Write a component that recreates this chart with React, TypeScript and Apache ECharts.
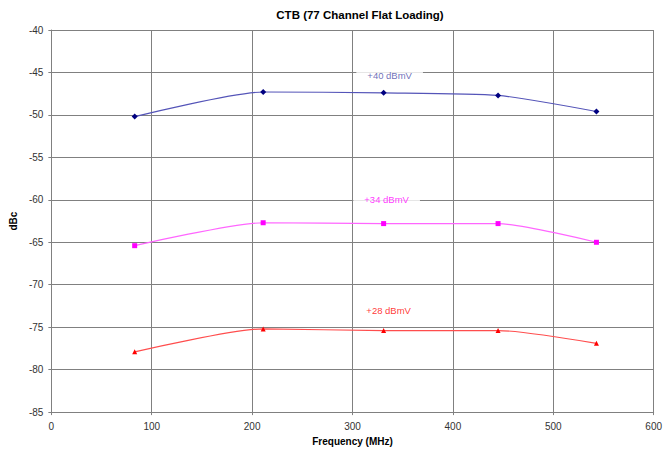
import React, { useEffect, useRef } from "react";
import * as echarts from "echarts";

const frequencies = [83, 211, 331, 445, 543];
const ctb40 = [-50.2, -47.3, -47.4, -47.7, -49.6];
const ctb34 = [-65.4, -62.7, -62.8, -62.8, -65.0];
const ctb28 = [-77.9, -75.2, -75.4, -75.4, -76.9];

const seriesNames = ["+40 dBmV", "+34 dBmV", "+28 dBmV"];
const labelFreq = [337, 334, 336];
const labelLevel = [-45.4, -60, -73.0];

const lineColors = ["#5454b8", "#ff66ff", "#ff4d4d"];
const markerColors = ["#000080", "#ff00ff", "#ff0000"];
const labelColors = ["#4a4aa8", "#ff00ff", "#ff0000"];
const symbols = ["diamond", "rect", "triangle"];

export default function App() {
  const ref = useRef<HTMLDivElement>(null);
  useEffect(() => {
    if (!ref.current) return;
    const chart = echarts.init(ref.current, null, { renderer: "svg" });
    const data = [ctb40, ctb34, ctb28];
    const lineSeries = data.map((vals, i) => ({
      type: "line",
      name: seriesNames[i],
      data: vals.map((v, j) => [frequencies[j], v]),
      smooth: 0.22,
      symbol: symbols[i],
      symbolSize: i === 0 ? 6 : 5,
      showSymbol: true,
      lineStyle: { color: lineColors[i], width: 1.2 },
      itemStyle: { color: markerColors[i] },
      z: 3,
    }));
    const labelSeries = seriesNames.map((name, i) => ({
      type: "scatter",
      data: [[labelFreq[i], labelLevel[i]]],
      symbolSize: 0,
      silent: true,
      z: 2,
      label: {
        show: true,
        position: "inside",
        formatter: name,
        color: labelColors[i],
        fontSize: 9.5,
        fontFamily: "Liberation Sans, Arial, sans-serif",
        backgroundColor: "#ffffff",
        padding: [3, 11],
      },
    }));
    chart.setOption({
      animation: false,
      backgroundColor: "#ffffff",
      title: {
        text: "CTB (77 Channel Flat Loading)",
        left: 355,
        top: 4,
        textAlign: "center",
        textStyle: {
          fontSize: 11.5,
          fontWeight: "bold",
          color: "#000000",
          fontFamily: "Liberation Sans, Arial, sans-serif",
        },
      },
      grid: { left: 51, right: 8, top: 30, bottom: 38 },
      xAxis: {
        type: "value",
        min: 0,
        max: 600,
        interval: 100,
        name: "Frequency (MHz)",
        nameLocation: "middle",
        nameGap: 23,
        nameTextStyle: {
          fontSize: 10,
          fontWeight: "bold",
          color: "#000000",
          fontFamily: "Liberation Sans, Arial, sans-serif",
        },
        axisLine: { show: true, lineStyle: { color: "#808080", width: 1 } },
        axisTick: { show: true, length: 3, lineStyle: { color: "#808080" } },
        axisLabel: {
          fontSize: 10,
          color: "#333333",
          margin: 9,
          fontFamily: "Liberation Sans, Arial, sans-serif",
        },
        splitLine: { show: true, lineStyle: { color: "#808080", width: 1 } },
      },
      yAxis: {
        type: "value",
        min: -85,
        max: -40,
        interval: 5,
        name: "dBc",
        nameLocation: "middle",
        nameGap: 30,
        nameRotate: 90,
        nameTextStyle: {
          fontSize: 10,
          fontWeight: "bold",
          color: "#000000",
          fontFamily: "Liberation Sans, Arial, sans-serif",
        },
        axisLine: { show: true, lineStyle: { color: "#808080", width: 1 } },
        axisTick: { show: true, length: 3, lineStyle: { color: "#808080" } },
        axisLabel: {
          fontSize: 10,
          color: "#333333",
          margin: 8,
          fontFamily: "Liberation Sans, Arial, sans-serif",
        },
        splitLine: { show: true, lineStyle: { color: "#808080", width: 1 } },
      },
      series: [...labelSeries, ...lineSeries],
    });
    return () => chart.dispose();
  }, []);
  return (
    <div
      ref={ref}
      style={{ width: 665, height: 451, position: "absolute", left: 0, top: 0 }}
    />
  );
}
